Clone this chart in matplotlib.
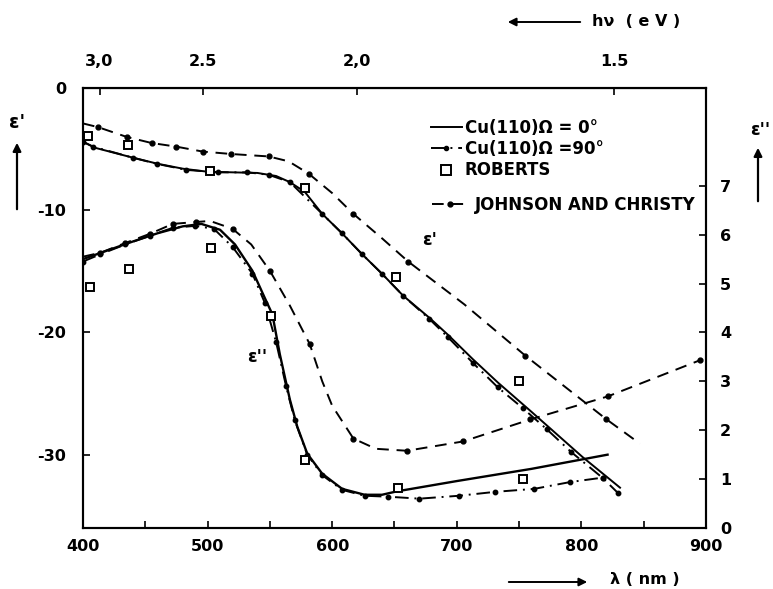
import numpy as np
import matplotlib
matplotlib.use("Agg")
import matplotlib.pyplot as plt
from matplotlib.lines import Line2D
from matplotlib.patches import FancyArrowPatch

plt.rcParams['font.family'] = ['DejaVu Sans']
plt.rcParams['font.weight'] = 'bold'

# ---------------- data ----------------
# eps' (left axis), Cu(110) Omega = 0 deg, solid
lam_e1_cu0 = [400, 410, 425, 440, 460, 480, 500, 520, 540, 555, 566, 578, 592, 608, 624, 640,
              657, 678, 693, 713, 733, 760, 801, 831]
e1_cu0 = [-4.4, -4.9, -5.3, -5.7, -6.2, -6.6, -6.85, -6.9, -6.95, -7.2, -7.7, -8.5, -10.3, -11.9,
          -13.6, -15.2, -17.0, -18.8, -20.2, -22.2, -24.1, -26.5, -30.2, -32.7]
# eps', Cu(110) Omega = 90 deg, dash-dot with dots
lam_e1_cu90 = [400, 408, 440, 459, 483, 508, 532, 549, 566, 592, 608, 624, 640, 657, 678, 693,
               713, 733, 753, 772, 792, 817, 829]
e1_cu90 = [-4.4, -4.8, -5.7, -6.2, -6.7, -6.9, -6.9, -7.1, -7.7, -10.3, -11.9, -13.6, -15.2, -17.0,
           -18.9, -20.4, -22.5, -24.5, -26.2, -27.9, -29.8, -31.9, -33.1]
# eps', Johnson and Christy, dashed with dots
lam_e1_jc = [400, 412, 435, 455, 475, 496, 519, 549, 565, 581, 600, 617, 640, 661, 706, 755, 820, 847]
e1_jc = [-2.9, -3.2, -4.0, -4.5, -4.8, -5.2, -5.4, -5.6, -6.0, -7.0, -8.6, -10.3, -12.3, -14.2,
         -17.7, -21.9, -27.1, -29.1]
# eps', Roberts (squares)
lam_e1_rob = [404, 436, 502, 578, 651, 750]
e1_rob = [-3.9, -4.7, -6.8, -8.2, -15.5, -24.0]

# eps'' (right axis), Cu(110) Omega = 0 deg, solid
lam_e2_cu0 = [400, 420, 440, 460, 480, 495, 510, 522, 536, 546, 552, 558, 566, 572, 580, 592, 608,
              626, 640, 652, 700, 760, 821]
e2_cu0 = [5.50, 5.68, 5.86, 6.03, 6.17, 6.22, 6.10, 5.80, 5.26, 4.70, 4.37, 3.55, 2.63, 2.07, 1.52,
          1.11, 0.80, 0.68, 0.68, 0.75, 0.96, 1.21, 1.50]
# eps'', Cu(110) Omega = 90 deg
lam_e2_cu90 = [400, 414, 434, 454, 472, 490, 505, 520, 536, 546, 555, 563, 570, 580, 592, 608, 626,
               645, 670, 702, 731, 762, 791, 817]
e2_cu90 = [5.45, 5.60, 5.80, 5.98, 6.14, 6.18, 6.12, 5.75, 5.20, 4.60, 3.80, 2.90, 2.20, 1.50, 1.08,
           0.78, 0.66, 0.64, 0.60, 0.66, 0.74, 0.80, 0.94, 1.03]
# eps'', Johnson and Christy
lam_e2_jc = [400, 414, 434, 454, 472, 491, 502, 520, 535, 550, 566, 582, 592, 600, 617, 635, 660,
             705, 759, 821, 895]
e2_jc = [5.55, 5.63, 5.83, 6.02, 6.22, 6.26, 6.28, 6.12, 5.80, 5.26, 4.55, 3.76, 3.0, 2.5, 1.83,
         1.62, 1.58, 1.77, 2.22, 2.69, 3.43]
# eps'', Roberts
lam_e2_rob = [406, 437, 503, 551, 578, 653, 753]
e2_rob = [4.93, 5.30, 5.73, 4.33, 1.40, 0.82, 1.0]

x_ticks = [400, 500, 600, 700, 800, 900]
e1_ticks = [0, -10, -20, -30]
e1_tick_labels = ['0', '-10', '-20', '-30']
e2_ticks = [0, 1, 2, 3, 4, 5, 6, 7]
ev_ticks = [3.0, 2.5, 2.0, 1.5]
ev_tick_labels = ['3,0', '2.5', '2,0', '1.5']
legend_labels = ['Cu(110)Ω = 0°', 'Cu(110)Ω =90°', 'ROBERTS', 'JOHNSON AND CHRISTY']

# ---------------- figure ----------------
W, H = 773, 589
fig = plt.figure(figsize=(W / 100, H / 100), dpi=100)
ax = fig.add_axes([83 / W, 1 - 528 / H, (706 - 83) / W, (528 - 88) / H])
ax2 = ax.twinx()

LW = 1.4
FS = 11.5
dashed = (0, (6, 4))
dashdot = (0, (7, 3, 1, 3))
k = 'black'

# eps' curves
ax.plot(lam_e1_cu0, e1_cu0, color=k, lw=LW, ls='-')
ax.plot(lam_e1_cu90, e1_cu90, color=k, lw=LW, ls=dashdot, marker='o', ms=3.2)
jc_dots = [1, 2, 3, 4, 5, 6, 7, 9, 11, 13, 15, 16]
ax.plot(lam_e1_jc, e1_jc, color=k, lw=LW, ls=dashed, marker='o', ms=3.5, markevery=jc_dots)
ax.plot(lam_e1_rob, e1_rob, ls='none', marker='s', ms=6, mfc='white', mec=k, mew=1.4)

# eps'' curves
ax2.plot(lam_e2_cu0, e2_cu0, color=k, lw=LW + 0.3, ls='-')
ax2.plot(lam_e2_cu90, e2_cu90, color=k, lw=LW, ls=dashdot, marker='o', ms=3.2)
jc2_dots = [1, 2, 3, 4, 5, 7, 9, 11, 14, 16, 17, 18, 19, 20]
ax2.plot(lam_e2_jc, e2_jc, color=k, lw=LW, ls=dashed, marker='o', ms=3.5, markevery=jc2_dots)
ax2.plot(lam_e2_rob, e2_rob, ls='none', marker='s', ms=6, mfc='white', mec=k, mew=1.4)

# axes limits / ticks
ax.set_xlim(400, 900)
ax.set_ylim(-36, 0)
ax2.set_ylim(0, 9)
ax.set_xticks(x_ticks)
ax.set_xticks([450, 550, 650, 750, 850], minor=True)
ax.set_yticks(e1_ticks)
ax.set_yticklabels(e1_tick_labels)
ax2.set_yticks(e2_ticks)
ax.tick_params(axis='both', which='both', direction='in', length=5, width=1.2, labelsize=FS)
ax.tick_params(axis='x', pad=8)
ax.tick_params(axis='y', pad=12)
ax2.tick_params(axis='y', direction='in', length=5, width=1.2, labelsize=FS, pad=10)
for a in (ax, ax2):
    for s in a.spines.values():
        s.set_linewidth(1.5)

secax = ax.secondary_xaxis('top', functions=(lambda x: 1239.8 / np.asarray(x, float),
                                              lambda e: 1239.8 / np.asarray(e, float)))
secax.set_xticks(ev_ticks)
secax.set_xticklabels(ev_tick_labels)
secax.tick_params(direction='in', length=5, width=1.2, labelsize=FS, pad=14)

# legend (two blocks: the last entry sits a little lower in the original)
LFS = 12
handles = [
    Line2D([], [], color=k, lw=LW, ls='-'),
    Line2D([], [], color=k, lw=LW, ls=dashdot, marker='o', ms=3, markevery=[1]),
    Line2D([], [], ls='none', marker='s', ms=7, mfc='white', mec=k, mew=1.4),
]
leg1 = ax.legend(handles, legend_labels[:3], loc='upper left', bbox_to_anchor=(0.558, 0.93),
                 frameon=False, fontsize=LFS, handlelength=1.9, handletextpad=0.15,
                 labelspacing=0.2, borderaxespad=0, borderpad=0)
ax.add_artist(leg1)
h_jc = Line2D([], [], color=k, lw=LW, ls=dashed, marker='o', ms=3.5, markevery=[1])
ax.legend([h_jc], legend_labels[3:], loc='upper left', bbox_to_anchor=(0.56, 0.755),
          frameon=False, fontsize=LFS, handlelength=2.2, handletextpad=0.4,
          borderaxespad=0, borderpad=0)

# curve labels
ax.text(678, -12.4, "ε'", fontsize=FS + 1, ha='center', va='center')
ax.text(540, -22.0, "ε''", fontsize=FS + 1, ha='center', va='center')

# axis titles with arrows (figure pixel positions)
def fx(px):
    return px / W

def fy(py):
    return 1 - py / H

fig.text(fx(17), fy(122), "ε'", fontsize=FS + 2, ha='center', va='center')
fig.add_artist(FancyArrowPatch((fx(17), fy(212)), (fx(17), fy(140)), transform=fig.transFigure,
                               arrowstyle='-|>', mutation_scale=12, lw=1.6, color=k))
fig.text(fx(760), fy(130), "ε''", fontsize=FS + 1, ha='center', va='center')
fig.add_artist(FancyArrowPatch((fx(758), fy(204)), (fx(758), fy(145)), transform=fig.transFigure,
                               arrowstyle='-|>', mutation_scale=12, lw=1.6, color=k))
fig.text(fx(592), fy(22), "hν  ( e V )", fontsize=FS, ha='left', va='center')
fig.add_artist(FancyArrowPatch((fx(583), fy(22)), (fx(505), fy(22)), transform=fig.transFigure,
                               arrowstyle='-|>', mutation_scale=12, lw=1.4, color=k))
fig.text(fx(610), fy(580), "λ ( nm )", fontsize=FS, ha='left', va='center')
fig.add_artist(FancyArrowPatch((fx(506), fy(582)), (fx(590), fy(582)), transform=fig.transFigure,
                               arrowstyle='-|>', mutation_scale=12, lw=1.4, color=k))

fig.savefig('out.png', dpi=100)
